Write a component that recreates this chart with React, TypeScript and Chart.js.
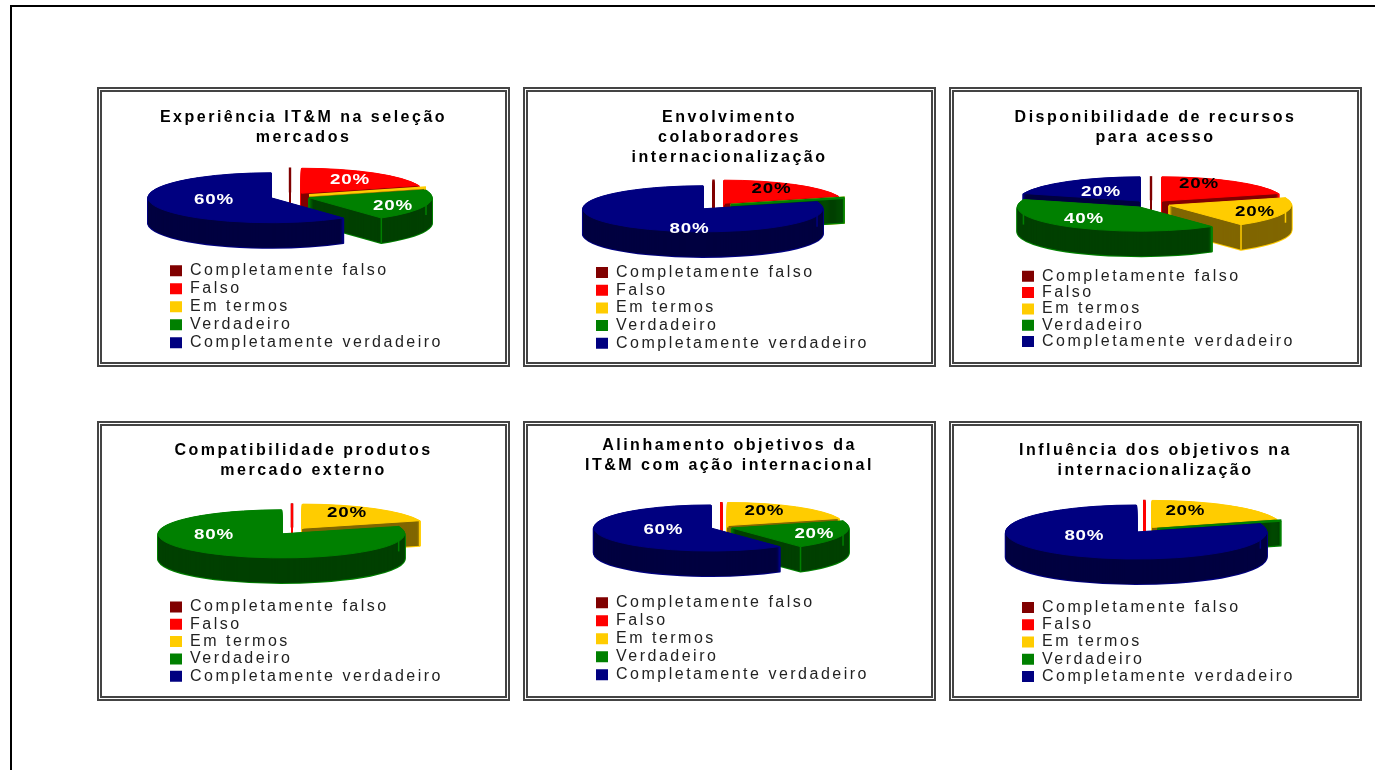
import React, { useEffect, useRef } from "react";
import { Chart, registerables } from "chart.js";

Chart.register(...registerables);

// Answer categories shared by all six pies
const categories = [
  "Completamente falso",
  "Falso",
  "Em termos",
  "Verdadeiro",
  "Completamente verdadeiro",
];

// Share of answers per category, in percent
const experienciaValues = [0, 20, 0, 20, 60];
const envolvimentoValues = [0, 20, 0, 0, 80];
const disponibilidadeValues = [0, 20, 20, 40, 20];
const compatibilidadeValues = [0, 0, 20, 80, 0];
const alinhamentoValues = [0, 0, 20, 20, 60];
const influenciaValues = [0, 0, 20, 0, 80];

const experienciaTitle = ["Experiência IT&M na seleção", "mercados"];
const envolvimentoTitle = ["Envolvimento", "colaboradores", "internacionalização"];
const disponibilidadeTitle = ["Disponibilidade de recursos", "para acesso"];
const compatibilidadeTitle = ["Compatibilidade produtos", "mercado externo"];
const alinhamentoTitle = ["Alinhamento objetivos da", "IT&M com ação internacional"];
const influenciaTitle = ["Influência dos objetivos na", "internacionalização"];

const topColors = ["#800000", "#FF0000", "#FFCC00", "#008000", "#000080"];
const wallColors = ["#400000", "#800000", "#806600", "#004000", "#000040"];

const FONT = "'Liberation Sans', Arial, sans-serif";
const TEXT_SIZE = 16;
const PANEL_W = 413;
const PANEL_H = 280;
const DEPTH = 25;

type PieLayout = {
  left: number;
  top: number;
  title: string[];
  values: number[];
  titleTop: number;
  cx: number;
  cy: number;
  radius: number;
  tilt: number;
  explode: number;
  legendX: number;
  legendY: number;
  legendStep: number;
  // Label placement relative to the pie centre, one entry per category
  labelAt: ([number, number] | null)[];
  labelInk: string[];
};

const W = "#FFFFFF";
const K = "#000000";

const panels: PieLayout[] = [
  {
    left: 97, top: 87, title: experienciaTitle, values: experienciaValues, titleTop: 21,
    cx: 193, cy: 109.5, radius: 123, tilt: 0.203, explode: 20,
    legendX: 73, legendY: 183.8, legendStep: 18,
    labelAt: [null, [60, -17], null, [103, 9], [-76, 3.5]],
    labelInk: [W, W, W, W, W],
  },
  {
    left: 523, top: 87, title: envolvimentoTitle, values: envolvimentoValues, titleTop: 21,
    cx: 190.5, cy: 119, radius: 120, tilt: 0.192, explode: 18,
    legendX: 73, legendY: 185.5, legendStep: 17.7,
    labelAt: [null, [58, -17], null, null, [-24, 23]],
    labelInk: [W, K, K, W, W],
  },
  {
    left: 949, top: 87, title: disponibilidadeTitle, values: disponibilidadeValues, titleTop: 21,
    cx: 202, cy: 117, radius: 122.4, tilt: 0.197, explode: 19,
    legendX: 73, legendY: 189.3, legendStep: 16.3,
    labelAt: [null, [48, -20], [104, 8], [-67, 15], [-50, -12]],
    labelInk: [W, K, K, W, W],
  },
  {
    left: 97, top: 421, title: compatibilidadeTitle, values: compatibilidadeValues, titleTop: 20,
    cx: 195, cy: 110, radius: 123.3, tilt: 0.195, explode: 18,
    legendX: 73, legendY: 186, legendStep: 17.3,
    labelAt: [null, null, [55, -18], [-78, 4], null],
    labelInk: [W, K, K, W, W],
  },
  {
    left: 523, top: 421, title: alinhamentoTitle, values: alinhamentoValues, titleTop: 15,
    cx: 198.3, cy: 106.3, radius: 117, tilt: 0.197, explode: 11,
    legendX: 73, legendY: 181.8, legendStep: 18,
    labelAt: [null, null, [43, -16], [93, 7], [-58, 3]],
    labelInk: [W, K, K, W, W],
  },
  {
    left: 949, top: 421, title: influenciaTitle, values: influenciaValues, titleTop: 20,
    cx: 195.3, cy: 108.7, radius: 130.5, tilt: 0.207, explode: 13.7,
    legendX: 73, legendY: 186.4, legendStep: 17.3,
    labelAt: [null, null, [41, -19], null, [-60, 6]],
    labelInk: [W, K, K, W, W],
  },
];

// Paints the exploded slices as an extruded, tilted pie from the arc geometry
// computed by the pie controller, and moves the legend under the pie.
function pie3d(p: PieLayout) {
  return {
    id: "pie3d",
    beforeDraw(chart: any) {
      const pad = p.legendStep - TEXT_SIZE;
      const legend = chart.legend;
      legend.left = p.legendX - pad;
      legend.right = legend.left + 400;
      legend.top = p.legendY - TEXT_SIZE / 2 - pad;
      legend.bottom = legend.top + 200;
      chart.ctx.letterSpacing = "2.5px";
    },
    beforeDatasetsDraw(chart: any) {
      const ctx = chart.ctx as CanvasRenderingContext2D;
      const meta = chart.getDatasetMeta(0);
      // A zero share after the last filled slice closes the circle and leaves no trace
      const circleEnd = (Math.PI * 3) / 2 - 1e-6;
      const order = meta.data
        .map((arc: any, i: number) => ({ arc, i, mid: (arc.startAngle + arc.endAngle) / 2 }))
        .filter((s: any) => s.arc.endAngle > s.arc.startAngle || s.arc.startAngle < circleEnd)
        .sort(
          (a: any, b: any) =>
            Math.round(Math.sin(a.mid) * 100) - Math.round(Math.sin(b.mid) * 100) || a.i - b.i
        );

      const traceSlice = (s: any, dy: number, inset = 0) => {
        const ox = Math.cos(s.mid) * p.explode;
        const oy = Math.sin(s.mid) * p.explode;
        const r = s.arc.outerRadius - inset;
        ctx.save();
        ctx.translate(p.cx, p.cy + dy);
        ctx.scale(1, p.tilt);
        ctx.beginPath();
        ctx.moveTo(ox, oy);
        if (s.arc.endAngle > s.arc.startAngle) {
          ctx.arc(ox, oy, r, s.arc.startAngle, s.arc.endAngle);
          ctx.closePath();
        } else {
          ctx.lineTo(ox + Math.cos(s.mid) * r, oy + Math.sin(s.mid) * r);
        }
        ctx.restore();
      };

      const rimEdge = (s: any, angle: number) => {
        const r = s.arc.outerRadius;
        const x = p.cx + Math.cos(s.mid) * p.explode + Math.cos(angle) * r;
        const y = p.cy + (Math.sin(s.mid) * p.explode + Math.sin(angle) * r) * p.tilt;
        ctx.beginPath();
        ctx.moveTo(x, y);
        ctx.lineTo(x, y + DEPTH);
        ctx.stroke();
      };

      for (const s of order) {
        const flat = s.arc.endAngle <= s.arc.startAngle;
        const bright = topColors[s.i];
        const wall = wallColors[s.i];
        ctx.save();
        ctx.lineJoin = "round";
        ctx.strokeStyle = bright;
        ctx.lineWidth = 2;
        for (let dy = DEPTH; dy >= 1; dy--) {
          traceSlice(s, dy);
          ctx.stroke();
        }
        if (flat) {
          if (Math.abs(Math.cos(s.mid)) > 0.01) {
            ctx.strokeStyle = wall;
            ctx.lineWidth = 1.2;
            for (let dy = DEPTH - 1; dy >= 1; dy--) {
              traceSlice(s, dy, 2);
              ctx.stroke();
            }
          }
          ctx.strokeStyle = bright;
          ctx.lineWidth = 2.4;
          traceSlice(s, 0);
          ctx.stroke();
        } else {
          ctx.fillStyle = wall;
          for (let dy = DEPTH; dy >= 1; dy--) {
            traceSlice(s, dy);
            ctx.fill();
          }
          ctx.strokeStyle = bright;
          ctx.lineWidth = 1.5;
          rimEdge(s, s.arc.startAngle);
          rimEdge(s, s.arc.endAngle);
          // Top face
          ctx.fillStyle = bright;
          ctx.lineWidth = 1;
          traceSlice(s, 0);
          ctx.fill();
          ctx.stroke();
        }
        ctx.restore();
      }

      // Percentage labels, slightly widened like the rest of the chart's type
      const total = p.values.reduce((a, b) => a + b, 0);
      p.values.forEach((v, i) => {
        const at = p.labelAt[i];
        if (!v || !at) return;
        ctx.save();
        ctx.letterSpacing = "0.6px";
        ctx.translate(p.cx + at[0], p.cy + at[1]);
        ctx.scale(1.25, 1);
        ctx.font = `bold 15px ${FONT}`;
        ctx.fillStyle = p.labelInk[i];
        ctx.textAlign = "center";
        ctx.textBaseline = "middle";
        ctx.fillText(`${Math.round((v / total) * 100)}%`, 0, 0);
        ctx.restore();
      });
      return false;
    },
  };
}

function PiePanel({ layout }: { layout: PieLayout }) {
  const canvasRef = useRef<HTMLCanvasElement | null>(null);

  useEffect(() => {
    const canvas = canvasRef.current;
    if (!canvas) return;
    const chart = new Chart(canvas, {
      type: "pie",
      data: {
        labels: categories,
        datasets: [
          {
            data: layout.values,
            backgroundColor: topColors,
            borderWidth: 0,
            radius: layout.radius,
          } as any,
        ],
      },
      plugins: [pie3d(layout)],
      options: {
        responsive: false,
        animation: false,
        layout: { padding: 0 },
        plugins: {
          tooltip: { enabled: false },
          title: {
            display: true,
            text: layout.title,
            color: "#000000",
            align: "center",
            font: { family: FONT, size: TEXT_SIZE, weight: "bold", lineHeight: 1.25 },
            padding: { top: layout.titleTop, bottom: 4 },
          },
          legend: {
            display: true,
            position: "left",
            align: "start",
            labels: {
              color: "#222222",
              boxWidth: 12,
              boxHeight: 11,
              padding: layout.legendStep - TEXT_SIZE,
              font: { family: FONT, size: TEXT_SIZE },
            },
          },
        },
      },
    } as any);
    return () => chart.destroy();
  }, [layout]);

  return (
    <div
      style={{
        position: "absolute",
        left: layout.left,
        top: layout.top,
        width: PANEL_W,
        height: PANEL_H,
        boxSizing: "border-box",
        border: "5px double #444444",
        background: "#FFFFFF",
      }}
    >
      <canvas
        ref={canvasRef}
        width={PANEL_W}
        height={PANEL_H}
        style={{ position: "absolute", left: -5, top: -5, display: "block" }}
      />
    </div>
  );
}

export default function App() {
  return (
    <div>
      <div
        style={{
          position: "absolute",
          left: 10,
          top: 5,
          width: 1365,
          height: 765,
          boxSizing: "border-box",
          borderTop: "2px solid #000000",
          borderLeft: "2px solid #000000",
        }}
      />
      {panels.map((layout) => (
        <PiePanel key={layout.title[0]} layout={layout} />
      ))}
    </div>
  );
}
